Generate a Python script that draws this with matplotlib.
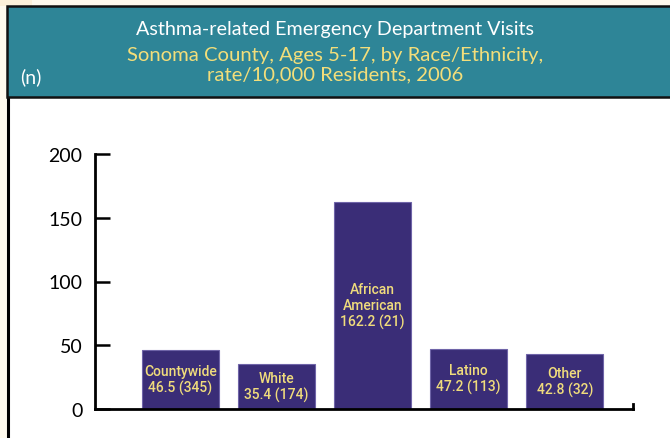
import matplotlib
matplotlib.use("Agg")
import matplotlib.pyplot as plt
from matplotlib.patches import Rectangle
from matplotlib.lines import Line2D

categories = ["Countywide", "White", "African\nAmerican", "Latino", "Other"]
rates = [46.5, 35.4, 162.2, 47.2, 42.8]
counts = [345, 174, 21, 113, 32]
y_ticks = [0, 50, 100, 150, 200]

TITLE = "Asthma-related Emergency Department Visits"
SUBTITLE = "Sonoma County, Ages 5-17, by Race/Ethnicity,\nrate/10,000 Residents, 2006"

BAR_COLOR = "#3a2d77"
LABEL_COLOR = "#f0dc7c"
TEAL = "#2e8597"
CREAM = "#fffaee"

W, H = 670, 439
fig = plt.figure(figsize=(W / 100, H / 100), dpi=100, facecolor=CREAM)

# top-left darker cream strip
fig.add_artist(Rectangle((0, 1 - 7 / H), 32 / W, 7 / H, transform=fig.transFigure,
                         facecolor="#fdf1da", edgecolor="none", zorder=0))
# white panel with black left border
fig.add_artist(Rectangle((7 / W, 0), 1 - 7 / W, 1 - 98 / H, transform=fig.transFigure,
                         facecolor="white", edgecolor="none", zorder=0))
fig.add_artist(Line2D([7.5 / W, 7.5 / W], [0, 1 - 98 / H], transform=fig.transFigure,
                      color="black", lw=2.2, zorder=1))
# teal header
fig.add_artist(Rectangle((7 / W, 1 - 98 / H), 1 - 7 / W + 0.01, 91 / H, transform=fig.transFigure,
                         facecolor=TEAL, edgecolor="#111111", lw=1.8, zorder=1))

hdr_font = ["Lato", "DejaVu Sans"]
fig.text(0.5, 1 - 29 / H, TITLE, color="white", fontsize=14.2, ha="center", va="center",
         family=hdr_font, zorder=2)
fig.text(0.5, 1 - 65 / H, SUBTITLE, color="#f3de7a", fontsize=14.6, ha="center", va="center",
         family=hdr_font, linespacing=1.15, zorder=2)
fig.text(20 / W, 1 - 77 / H, "(n)", color="white", fontsize=14, ha="left", va="center",
         family=hdr_font, zorder=2)

ax = fig.add_axes([95 / W, 1 - 410 / H, (633 - 95) / W, (410 - 155) / H])
ax.set_facecolor("none")
x = range(len(categories))
bars = ax.bar(x, rates, width=0.8, color=BAR_COLOR, edgecolor="#6f64a8", linewidth=0.8)

label_font = ["Roboto", "DejaVu Sans"]
for xi, cat, r, n in zip(x, categories, rates, counts):
    ax.text(xi, r / 2, f"{cat}\n{r:.1f} ({n})", ha="center", va="center", color=LABEL_COLOR,
            fontsize=10, fontweight="medium", family=label_font, linespacing=1.15)

ax.set_xlim(-0.89, 4.71)
ax.set_ylim(0, 200)
ax.set_yticks(y_ticks)
ax.set_yticklabels([str(t) for t in y_ticks], fontsize=14, family=hdr_font)
ax.tick_params(axis="y", direction="in", length=11, width=1.8, pad=9)
ax.set_xticks([])
for s in ["top", "right"]:
    ax.spines[s].set_visible(False)
ax.spines["left"].set_linewidth(2)
ax.spines["bottom"].set_linewidth(2)
ax.axvline(4.71, 0, 0.02, color="black", lw=2, clip_on=False)

fig.savefig("out.png", dpi=100, facecolor=CREAM)
